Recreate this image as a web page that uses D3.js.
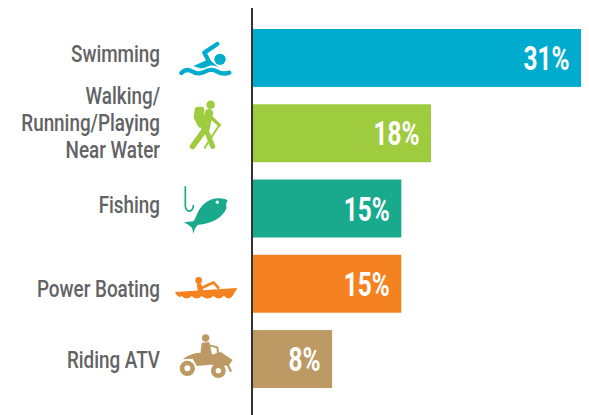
<!DOCTYPE html>
<html>
<head>
<meta charset="utf-8">
<script src="https://cdnjs.cloudflare.com/ajax/libs/d3/7.8.5/d3.min.js"></script>
<style>
    html, body { margin: 0; padding: 0; background: #fff; }
    svg { display: block; }
    text { font-family: Roboto, "Liberation Sans", sans-serif; }
</style>
</head>
<body>
<div id="chart"></div>
<script>

var categories = [ 'Swimming', 'Walking', 'Fishing', 'Power Boating', 'Riding ATV' ];
var labelLines = [
    [ 'Swimming' ],
    [ 'Walking/', 'Running/Playing', 'Near Water' ],
    [ 'Fishing' ],
    [ 'Power Boating' ],
    [ 'Riding ATV' ]
];
var shares = [ 31, 18, 15, 15, 8 ];
var colors = [ '#00acce', '#9fcb3f', '#19a98c', '#f58220', '#bd9a63' ];

var width = 589,
    height = 415;

var svg = d3.select('#chart').append('svg')
    .attr('width', width)
    .attr('height', height);

// the source bar lengths are not proportional: the 31% bar is drawn shorter
// than the others would imply, so the scale has a knee at 18
var x = d3.scaleLinear()
    .domain([ 0, 18, 31 ])
    .range([ 253, 431, 581 ]);

var y = d3.scaleBand()
    .domain( categories )
    .range([ 29, 388 ])
    .paddingInner( 0.23 );

// label baseline offsets against the band centre, the source is hand placed
var labelNudge = [ 4, -2.5, 5, 13, 9 ];

svg.selectAll('.bar')
    .data( categories )
    .enter().append('rect')
    .attr('class', 'bar')
    .attr('x', x( 0 ))
    .attr('y', function ( d ) { return y( d ); })
    .attr('width', function ( d, i ) { return x( shares[ i ] ) - x( 0 ); })
    .attr('height', y.bandwidth())
    .style('fill', function ( d, i ) { return colors[ i ]; });

svg.append('line')
    .attr('x1', 252).attr('x2', 252)
    .attr('y1', 8).attr('y2', height)
    .style('stroke', '#333')
    .style('stroke-width', 2);

// no condensed face is installed, so the text is squeezed horizontally
svg.selectAll('.share')
    .data( categories )
    .enter().append('text')
    .attr('class', 'share')
    .attr('transform', function ( d, i ) {

        return 'translate(' + ( x( shares[ i ] ) - 11.5 ) + ',' + ( y( d ) + y.bandwidth() / 2 + 12 ) + ') scale(0.74,1)';

    })
    .attr('text-anchor', 'end')
    .style('fill', '#fff')
    .style('font-size', '33px')
    .style('font-weight', 700)
    .text( function ( d, i ) { return shares[ i ] + '%'; });

var labels = svg.selectAll('.label')
    .data( categories )
    .enter().append('text')
    .attr('class', 'label')
    .attr('text-anchor', 'end')
    .attr('transform', 'translate(160,0) scale(0.82,1)')
    .style('fill', '#626365')
    .style('font-size', '23px')
    .style('font-weight', 500);

labels.each( function ( d, i ) {

    var lines = labelLines[ i ];
    var mid = y( d ) + y.bandwidth() / 2 + labelNudge[ i ];

    d3.select( this ).selectAll('tspan')
        .data( lines )
        .enter().append('tspan')
        .attr('x', 0)
        .attr('y', function ( l, k ) { return mid + ( k - ( lines.length - 1 ) / 2 ) * 27; })
        .text( function ( l ) { return l; });

});

// icons are traced in 3x pixel units, dy moves the origin from the band centre
function drawIcon ( index, dy, draw ) {

    var band = categories[ index ];
    var g = svg.append('g')
        .attr('transform', 'translate(160,' + ( y( band ) + y.bandwidth() / 2 + dy ) + ') scale(' + 1 / 3 + ')')
        .style('fill', colors[ index ])
        .style('stroke', colors[ index ])
        .style('stroke-linecap', 'round')
        .style('stroke-linejoin', 'round');

    draw( g );

}

function dot ( g, cx, cy, r ) {

    return g.append('circle').attr('cx', cx).attr('cy', cy).attr('r', r).style('stroke', 'none');

}

function shape ( g, d ) {

    return g.append('path').attr('d', d).style('stroke', 'none');

}

function line ( g, d, w ) {

    return g.append('path').attr('d', d).style('fill', 'none').style('stroke-width', w);

}

drawIcon( 0, -28, function ( g ) {

    dot( g, 180, 88, 17 );
    line( g, 'M172 42 L133 68 L148 97', 13 );
    shape( g, 'M100 108 L146 88 L176 112 C160 104 150 106 138 112 C125 118 112 112 100 108 Z' );
    line( g, 'M64 129 C74 119 84 117 96 124 C108 132 122 132 135 125 C148 118 160 118 172 125 C184 132 196 132 208 128', 13 );

});

drawIcon( 1, -103.5, function ( g ) {

    dot( g, 152, 225, 13 );
    line( g, 'M113 240 L124 240 L122 285 L110 262 Z', 18 );
    line( g, 'M147 250 L136 298', 25 );
    line( g, 'M134 300 L98 350', 17 );
    line( g, 'M138 300 L158 350', 15 );
    line( g, 'M152 262 L178 286', 10 );
    line( g, 'M178 286 L134 354', 6 );

});

drawIcon( 2, -39, function ( g ) {

    line( g, 'M76 52 L76 110 Q78 125 88 125 Q100 122 100 108', 5 );
    shape( g, 'M203 92 C170 78 135 90 115 125 C108 140 105 150 100 155 L72 158 C85 165 92 170 96 175 L100 192 C104 180 108 170 115 166 C150 165 190 145 200 115 C197 108 198 100 203 92 Z' );
    dot( g, 172, 98, 5 ).style('fill', '#fff');

});

drawIcon( 3, -24, function ( g ) {

    dot( g, 116, 62, 10 );
    line( g, 'M118 78 L122 95', 15 );
    line( g, 'M122 86 L160 68 L175 84', 8 );
    shape( g, 'M45 97 L232 85 L218 108 Q207 124 192 108 Q176 124 160 109 Q143 124 125 109 Q110 124 95 109 Q80 124 65 109 Q55 118 45 97 Z' );

});

drawIcon( 4, -99, function ( g ) {

    dot( g, 137, 234, 11 );
    shape( g, 'M125 248 L148 246 L158 292 L120 292 Z' );
    line( g, 'M148 256 L172 262 L174 280', 6 );
    shape( g, 'M68 298 C95 276 125 272 150 286 L182 276 L218 300 L205 318 L150 314 L110 318 L98 296 Z' );

    [ [ 82, 325, 16 ], [ 175, 332, 15 ] ].forEach( function ( w ) {

        g.append('circle')
            .attr('cx', w[ 0 ]).attr('cy', w[ 1 ]).attr('r', w[ 2 ])
            .style('fill', '#fff')
            .style('stroke-width', 14);

    });

    line( g, 'M205 318 L212 332', 7 );

});

</script>
</body>
</html>
